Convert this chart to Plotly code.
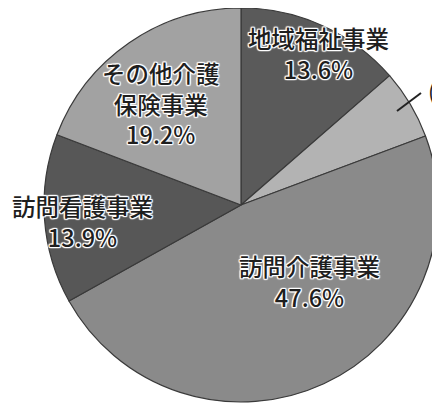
import plotly.graph_objects as go

# The page body has an 8px default margin, so the figure is drawn 8px in from the window corner.
OFF = 8
W, H = 440 - OFF, 409 - OFF

categories = ["地域福祉事業", "その他", "訪問介護事業", "訪問看護事業", "その他介護保険事業"]
values = [13.6, 5.7, 47.6, 13.9, 19.2]
label_lines = [["地域福祉事業"], None, ["訪問介護事業"], ["訪問看護事業"], ["その他介護", "保険事業"]]
colors = ["#5a5a5a", "#b3b3b3", "#8a8a8a", "#575757", "#a2a2a2"]

# label block centre positions in window pixels
label_pos = {0: (318, 53), 2: (309, 281), 3: (82, 221), 4: (161, 103)}


def px(x):
    return (x - OFF) / W


def py(y):
    return 1 - (y - OFF) / H


fig = go.Figure(go.Pie(
    labels=categories,
    values=values,
    sort=False,
    direction="clockwise",
    rotation=0,
    marker=dict(colors=colors, line=dict(color="#3a3a3a", width=1.2)),
    textinfo="none",
    hoverinfo="label+percent",
    showlegend=False,
    domain=dict(x=[px(44), px(438)], y=[py(402), 1.0]),
))

halo = ("1px 1px 1px #fff, -1px -1px 1px #fff, 1px -1px 1px #fff, -1px 1px 1px #fff, "
        "0 1px 1px #fff, 0 -1px 1px #fff, 1px 0 1px #fff, -1px 0 1px #fff")
font_family = "Noto Sans CJK JP, Noto Sans, sans-serif"

annotations = []
for i, lines in enumerate(label_lines):
    if lines is None:
        continue
    x0, y0 = label_pos[i]
    rows = lines + [f"{values[i]:.1f}%"]
    annotations.append(dict(
        x=px(x0), y=py(y0), xref="paper", yref="paper",
        text="<br>".join(rows), showarrow=False, xanchor="center", yanchor="middle",
        align="center",
        font=dict(family=font_family, size=23.5, color="#1e1e1e", weight=500, shadow=halo),
    ))

# small slice label (runs off the right edge, as in the source)
annotations.append(dict(
    x=px(426), y=py(90), xref="paper", yref="paper",
    text=f"({categories[1]} {values[1]:.1f}%)", showarrow=False,
    xanchor="left", yanchor="middle",
    font=dict(family=font_family, size=22, color="#1e1e1e"),
))

fig.update_layout(
    width=W, height=H,
    margin=dict(l=0, r=0, t=0, b=0),
    paper_bgcolor="white",
    plot_bgcolor="white",
    annotations=annotations,
    shapes=[dict(type="line", xref="paper", yref="paper",
                 x0=px(397), y0=py(111), x1=px(421), y1=py(93),
                 line=dict(color="#222222", width=2))],
)

fig.write_html("out.html")
